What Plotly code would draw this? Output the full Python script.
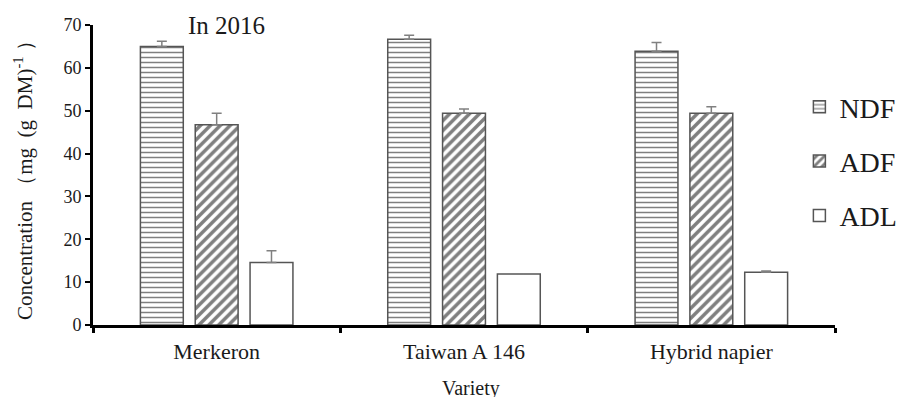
import plotly.graph_objects as go

varieties = ["Merkeron", "Taiwan A146", "Hybrid napier"]
tick_text = ["Merkeron", "Taiwan A 146", "Hybrid napier"]
ndf = [65.0, 66.7, 63.9]
ndf_err = [1.2, 0.9, 2.0]
adf = [46.7, 49.4, 49.4]
adf_err = [2.7, 1.0, 1.5]
adl = [14.6, 11.9, 12.3]
adl_err = [2.7, 0.0, 0.3]

SERIF = "Liberation Serif, Times New Roman, serif"
OUT = "#555555"
ERR = dict(type="data", visible=True, thickness=1.5, width=5, color="#808080")

fig = go.Figure()
fig.add_trace(go.Bar(
    name="NDF", x=varieties, y=ndf,
    error_y=dict(array=ndf_err, symmetric=False, arrayminus=[0]*3, **ERR),
    marker=dict(color="white", line=dict(color=OUT, width=1.5),
                pattern=dict(shape="-", size=5, solidity=0.3, fgcolor="black", bgcolor="white")),
    legendgroup="a"))
fig.add_trace(go.Bar(
    name="ADF", x=varieties, y=adf,
    error_y=dict(array=adf_err, symmetric=False, arrayminus=[0]*3, **ERR),
    marker=dict(color="white", line=dict(color=OUT, width=1.5),
                pattern=dict(shape="/", size=7, solidity=0.5, fgcolor="black", bgcolor="white")),
    legendgroup="b"))
fig.add_trace(go.Bar(
    name="ADL", x=varieties, y=adl,
    error_y=dict(array=adl_err, symmetric=False, arrayminus=[0]*3, **ERR),
    marker=dict(color="white", line=dict(color=OUT, width=1.5)),
    legendgroup="c"))

fig.update_layout(
    width=899, height=389,
    margin=dict(l=85, r=72, t=17, b=72, autoexpand=False),
    paper_bgcolor="white", plot_bgcolor="white",
    barmode="group", bargap=0.335, bargroupgap=0.218,
    font=dict(family=SERIF, color="#1a1a1a"),
    showlegend=True,
    legend=dict(x=0.952, y=0.81, xanchor="left", yanchor="top",
                font=dict(family=SERIF, size=28, color="#1a1a1a"),
                tracegroupgap=15, bgcolor="rgba(0,0,0,0)", traceorder="grouped",
                borderwidth=0),
    xaxis=dict(
        tickmode="array", tickvals=varieties, ticktext=tick_text,
        tickson="boundaries", ticks="outside", ticklen=5, tickwidth=3, tickcolor="black",
        showline=True, linecolor="black", linewidth=3,
        tickfont=dict(family=SERIF, size=22), ticklabelstandoff=5,
        showgrid=False, range=[-0.5, 2.5]),
    yaxis=dict(
        range=[0, 70], dtick=10, ticks="outside", ticklen=5, tickwidth=2, tickcolor="black",
        showline=True, linecolor="black", linewidth=3,
        tickfont=dict(family=SERIF, size=18), showgrid=False, zeroline=False,
        title=dict(text="Concentration （mg  (g  DM)<sup>-1</sup> ）",
                   font=dict(family=SERIF, size=21), standoff=26)),
    annotations=[
        dict(text="In 2016", x=0.18, y=70, xref="paper", yref="y", xanchor="center",
             showarrow=False, font=dict(family=SERIF, size=25), yanchor="middle"),
        dict(text="Variety", x=0.51, y=-0.21, xref="paper", yref="paper", xanchor="center",
             showarrow=False, font=dict(family=SERIF, size=20), yanchor="middle"),
    ],
)

fig.write_html("out.html")
